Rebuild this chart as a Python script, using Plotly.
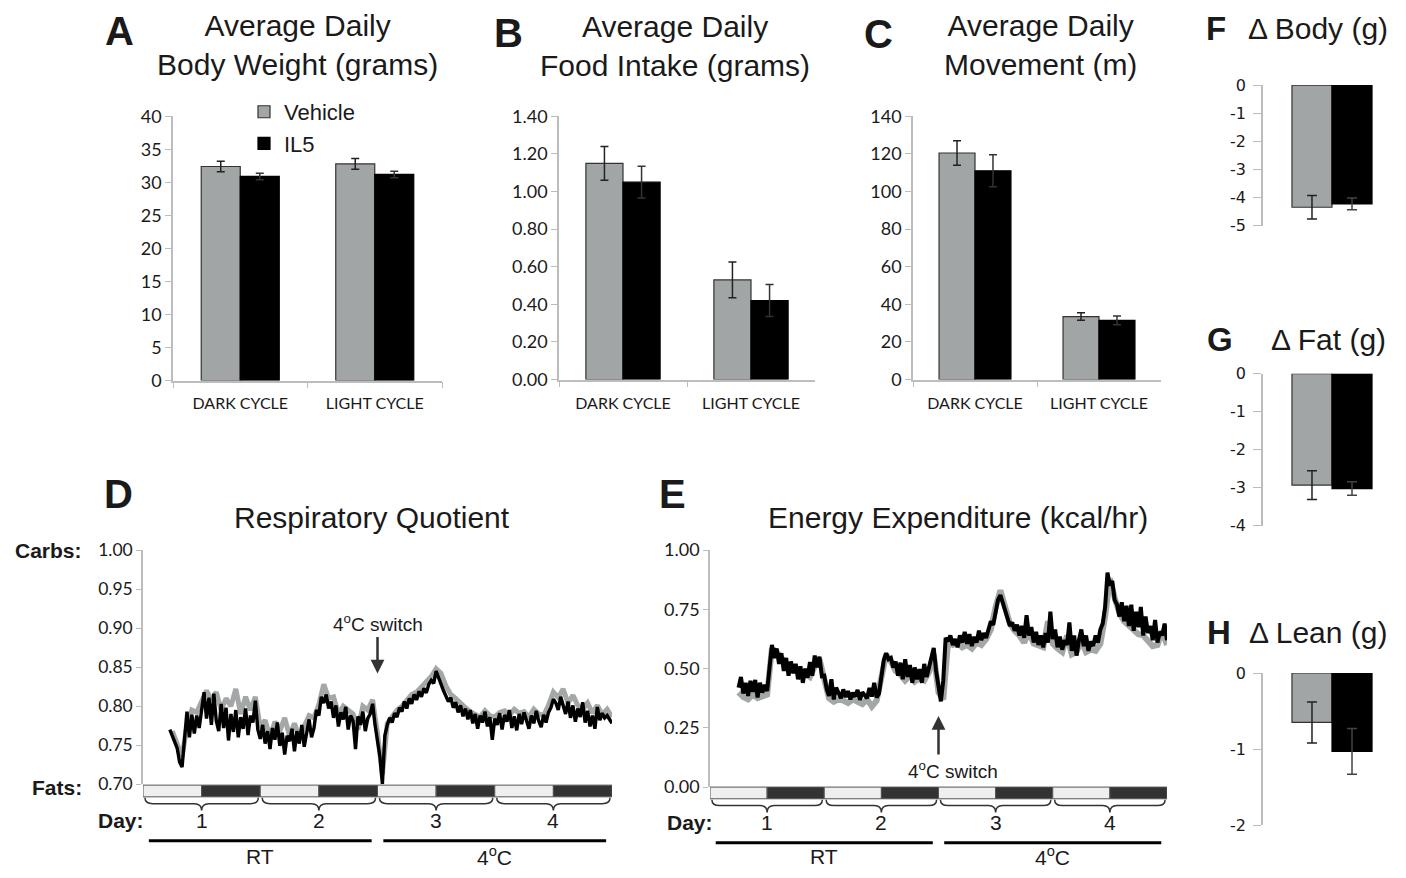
import plotly.graph_objects as go

W, H = 1406, 878

# ---------------- data ----------------
cycles = ["DARK CYCLE", "LIGHT CYCLE"]
groups = ["Vehicle", "IL5"]

bw_vehicle = [32.4, 32.8]
bw_vehicle_err = [0.8, 0.8]
bw_il5 = [30.9, 31.2]
bw_il5_err = [0.5, 0.5]

food_vehicle = [1.15, 0.53]
food_vehicle_err = [0.09, 0.095]
food_il5 = [1.05, 0.42]
food_il5_err = [0.085, 0.085]

move_vehicle = [120.5, 33.5]
move_vehicle_err = [6.5, 2.0]
move_il5 = [111.0, 31.5]
move_il5_err = [8.5, 2.3]

delta_cat = ["Δ"]
d_body = [-4.35, -4.23]
d_body_err = [0.42, 0.21]
d_fat = [-2.93, -3.02]
d_fat_err = [0.38, 0.18]
d_lean = [-0.65, -1.03]
d_lean_err = [0.27, 0.30]

body_ticks = [0, -1, -2, -3, -4, -5]
fat_ticks = [0, -1, -2, -3, -4]
lean_ticks = [0, -1, -2]

# Respiratory quotient, black (IL5) every 0.5 h from hour 5.5 to 96
rq_hours_il5 = [5.5 + 0.5 * i for i in range(182)]
rq_il5 = [
    0.770, 0.762, 0.752, 0.746, 0.728, 0.722, 0.758, 0.793, 0.760, 0.789, 0.765, 0.788,
    0.772, 0.799, 0.818, 0.784, 0.811, 0.776, 0.816, 0.781, 0.768, 0.803, 0.772, 0.798,
    0.756, 0.790, 0.767, 0.795, 0.760, 0.786, 0.771, 0.797, 0.763, 0.788, 0.779, 0.807,
    0.770, 0.758, 0.776, 0.752, 0.768, 0.745, 0.772, 0.757, 0.779, 0.749, 0.766, 0.738,
    0.762, 0.755, 0.771, 0.742, 0.768, 0.752, 0.776, 0.748, 0.764, 0.783, 0.760, 0.772,
    0.795, 0.788, 0.812, 0.804, 0.815, 0.797, 0.806, 0.785, 0.801, 0.774, 0.792, 0.783,
    0.799, 0.770, 0.788, 0.781, 0.745, 0.787, 0.776, 0.793, 0.768, 0.784, 0.790, 0.803,
    0.776, 0.758, 0.735, 0.700, 0.762, 0.776, 0.785, 0.779, 0.791, 0.786, 0.798, 0.793,
    0.806, 0.797, 0.810, 0.803, 0.815, 0.808, 0.819, 0.812, 0.823, 0.817, 0.828, 0.833,
    0.829, 0.845, 0.836, 0.827, 0.820, 0.813, 0.806, 0.811, 0.798, 0.805, 0.792, 0.801,
    0.787, 0.797, 0.783, 0.795, 0.778, 0.790, 0.771, 0.788, 0.779, 0.793, 0.774, 0.786,
    0.757, 0.784, 0.776, 0.791, 0.770, 0.789, 0.780, 0.795, 0.772, 0.787, 0.769, 0.790,
    0.777, 0.792, 0.783, 0.771, 0.788, 0.778, 0.794, 0.781, 0.773, 0.789, 0.779, 0.792,
    0.798, 0.809, 0.804, 0.795, 0.812, 0.799, 0.790, 0.806, 0.785, 0.801, 0.780, 0.797,
    0.786, 0.805, 0.779, 0.794, 0.774, 0.788, 0.771, 0.799, 0.782, 0.791, 0.785, 0.788,
    0.782, 0.778,
]
# gray (Vehicle) every 1 h from hour 6 to 96
rq_hours_veh = [6 + i for i in range(91)]
rq_veh = [
    0.768, 0.752, 0.735, 0.775, 0.795, 0.792,
    0.805, 0.820, 0.808, 0.818, 0.795, 0.810,
    0.800, 0.822, 0.790, 0.812, 0.795, 0.812,
    0.772, 0.782, 0.760, 0.780, 0.768, 0.785,
    0.762, 0.778, 0.760, 0.775, 0.788, 0.785,
    0.802, 0.828, 0.810, 0.812, 0.790, 0.800,
    0.795, 0.790, 0.770, 0.800, 0.795, 0.808,
    0.765, 0.712, 0.778, 0.788, 0.795, 0.800,
    0.808, 0.815, 0.818, 0.825, 0.830, 0.838,
    0.848, 0.842, 0.826, 0.815, 0.810, 0.803,
    0.798, 0.793, 0.790, 0.786, 0.794, 0.788,
    0.786, 0.792, 0.794, 0.788, 0.796, 0.791,
    0.793, 0.786, 0.796, 0.790, 0.788, 0.801,
    0.818, 0.811, 0.822, 0.804, 0.814, 0.801,
    0.796, 0.804, 0.791, 0.801, 0.789, 0.796,
    0.786,
]

# Energy expenditure, black every 0.5 h from hour 6 to 96
ee_hours_il5 = [6 + 0.5 * i for i in range(181)]
ee_il5 = [
    0.420, 0.465, 0.395, 0.440, 0.385, 0.448, 0.402, 0.452, 0.378, 0.440, 0.398, 0.432,
    0.405, 0.520, 0.600, 0.545, 0.585, 0.520, 0.565, 0.490, 0.545, 0.470, 0.530, 0.480,
    0.520, 0.455, 0.510, 0.440, 0.500, 0.462, 0.528, 0.470, 0.555, 0.505, 0.550, 0.468,
    0.470, 0.415, 0.385, 0.455, 0.370, 0.420, 0.395, 0.375, 0.412, 0.380, 0.405, 0.370,
    0.398, 0.382, 0.410, 0.368, 0.400, 0.385, 0.375, 0.418, 0.382, 0.440, 0.378, 0.395,
    0.470, 0.535, 0.565, 0.540, 0.545, 0.505, 0.530, 0.470, 0.525, 0.455, 0.540, 0.465,
    0.515, 0.440, 0.505, 0.455, 0.498, 0.440, 0.520, 0.465, 0.505, 0.545, 0.587, 0.490,
    0.420, 0.362, 0.450, 0.630, 0.615, 0.640, 0.600, 0.625, 0.590, 0.640, 0.610, 0.655,
    0.605, 0.645, 0.595, 0.635, 0.610, 0.660, 0.620, 0.650, 0.630, 0.670, 0.700, 0.685,
    0.745, 0.790, 0.810, 0.775, 0.740, 0.705, 0.680, 0.695, 0.660, 0.685, 0.640, 0.680,
    0.630, 0.725, 0.640, 0.675, 0.610, 0.655, 0.600, 0.640, 0.590, 0.650, 0.610, 0.740,
    0.625, 0.665, 0.590, 0.635, 0.580, 0.620, 0.600, 0.695, 0.575, 0.640, 0.555, 0.620,
    0.665, 0.595, 0.640, 0.575, 0.615, 0.595, 0.640, 0.610, 0.665, 0.690, 0.760, 0.905,
    0.850, 0.870, 0.790, 0.770, 0.720, 0.780, 0.700, 0.765, 0.680, 0.770, 0.660, 0.740,
    0.675, 0.760, 0.640, 0.720, 0.650, 0.680, 0.620, 0.705, 0.610, 0.655, 0.640, 0.690,
    0.620,
]
ee_hours_veh = [6 + i for i in range(91)]
ee_veh = [
    0.400, 0.380, 0.370, 0.390, 0.375, 0.385,
    0.390, 0.585, 0.570, 0.545, 0.525, 0.500,
    0.505, 0.470, 0.480, 0.465, 0.510, 0.540,
    0.455, 0.375, 0.360, 0.370, 0.365, 0.355,
    0.370, 0.360, 0.350, 0.370, 0.340, 0.365,
    0.450, 0.560, 0.530, 0.490, 0.475, 0.450,
    0.470, 0.445, 0.460, 0.450, 0.485, 0.560,
    0.400, 0.370, 0.610, 0.600, 0.610, 0.590,
    0.600, 0.585, 0.610, 0.600, 0.625, 0.665,
    0.760, 0.830, 0.760, 0.690, 0.660, 0.640,
    0.610, 0.655, 0.605, 0.600, 0.590, 0.700,
    0.605, 0.585, 0.570, 0.640, 0.560, 0.570,
    0.620, 0.570, 0.580, 0.575, 0.605, 0.720,
    0.880, 0.800, 0.735, 0.700, 0.680, 0.660,
    0.645, 0.640, 0.620, 0.595, 0.600, 0.660,
    0.600,
]

# light / dark phases (hours) and days
phase_edges = [0, 12, 24, 36, 48, 60, 72, 84, 96]
phase_kind = ["light", "dark", "light", "dark", "light", "dark", "light", "dark"]
day_edges = [0, 24, 48, 72, 96]
day_labels = ["1", "2", "3", "4"]
periods = [("RT", 0, 48), ("4<sup>o</sup>C", 48, 96)]
switch_hour = 48

# ---------------- styling ----------------
GRAY = "#a1a5a5"
BLACK = "#000000"
AXIS = "#bdbdbd"
TXT = "#1a1a1a"
TITLE_FONT = "Liberation Sans"
TICK_FONT = "Lato"


def fx(px):
    return px / W


def fy(py):
    return 1 - py / H


fig = go.Figure()


def add_bar_pair(xa, ya, cats, v, ve, i5, ie, legend=False):
    fig.add_trace(go.Bar(
        x=cats, y=v, name="Vehicle", xaxis=xa, yaxis=ya, showlegend=legend,
        marker=dict(color=GRAY, line=dict(color="#333333", width=1.2)),
        error_y=dict(type="data", array=ve, color="#222222", thickness=1.5, width=4),
    ))
    fig.add_trace(go.Bar(
        x=cats, y=i5, name="IL5", xaxis=xa, yaxis=ya, showlegend=legend,
        marker=dict(color=BLACK, line=dict(color="#000000", width=1.2)),
        error_y=dict(type="data", array=ie, color="#333333", thickness=1.5, width=4),
    ))


add_bar_pair("x", "y", cycles, bw_vehicle, bw_vehicle_err, bw_il5, bw_il5_err, legend=True)
add_bar_pair("x2", "y2", cycles, food_vehicle, food_vehicle_err, food_il5, food_il5_err)
add_bar_pair("x3", "y3", cycles, move_vehicle, move_vehicle_err, move_il5, move_il5_err)


def add_delta(xa, ya, vals, errs):
    fig.add_trace(go.Bar(
        x=delta_cat, y=[vals[0]], xaxis=xa, yaxis=ya, showlegend=False,
        marker=dict(color=GRAY, line=dict(color="#333333", width=1.2)),
        error_y=dict(type="data", array=[errs[0]], color="#222222", thickness=1.5, width=5),
    ))
    fig.add_trace(go.Bar(
        x=delta_cat, y=[vals[1]], xaxis=xa, yaxis=ya, showlegend=False,
        marker=dict(color=BLACK, line=dict(color="#000000", width=1.2)),
        error_y=dict(type="data", array=[errs[1]], color="#444444", thickness=1.5, width=5),
    ))


add_delta("x4", "y4", d_body, d_body_err)
add_delta("x5", "y5", d_fat, d_fat_err)
add_delta("x6", "y6", d_lean, d_lean_err)

# time series
fig.add_trace(go.Scatter(x=rq_hours_veh, y=rq_veh, mode="lines", xaxis="x7", yaxis="y7",
                         line=dict(color="#a3a7a7", width=5), showlegend=False))
fig.add_trace(go.Scatter(x=rq_hours_il5, y=rq_il5, mode="lines", xaxis="x7", yaxis="y7",
                         line=dict(color="#000000", width=3.4), showlegend=False))
fig.add_trace(go.Scatter(x=ee_hours_veh, y=ee_veh, mode="lines", xaxis="x8", yaxis="y8",
                         line=dict(color="#a3a7a7", width=6), showlegend=False))
fig.add_trace(go.Scatter(x=ee_hours_il5, y=ee_il5, mode="lines", xaxis="x8", yaxis="y8",
                         line=dict(color="#000000", width=4), showlegend=False))

tickfont = dict(family=TICK_FONT, size=18, color=TXT)


def cat_xaxis(x0, x1, anchor):
    return dict(domain=[fx(x0), fx(x1)], anchor=anchor, showline=True, linecolor=AXIS,
                linewidth=1.5, ticks="outside", tickson="boundaries", ticklen=6,
                tickcolor=AXIS, tickfont=dict(family=TICK_FONT, size=16, color=TXT),
                ticklabelstandoff=8,
                showgrid=False, zeroline=False, fixedrange=True)


def val_yaxis(y_top, y_bot, anchor, rng, dtick, fmt, font=None, ticklen=6, **kw):
    d = dict(domain=[fy(y_bot), fy(y_top)], anchor=anchor, range=rng, dtick=dtick,
             tick0=rng[0], tickformat=fmt, showline=True, linecolor=AXIS, linewidth=1.5,
             ticks="outside", ticklen=ticklen, tickcolor=AXIS, tickfont=font or tickfont,
             showgrid=False, zeroline=False, fixedrange=True)
    d.update(kw)
    return d


delta_font = dict(family="DejaVu Sans", size=16, color=TXT)
hidden_x = dict(showline=False, showticklabels=False, ticks="", showgrid=False, zeroline=False)


def delta_yaxis(y_top, y_bot, anchor, ticks):
    return val_yaxis(y_top, y_bot, anchor, [min(ticks), 0], 1, "d", delta_font, 8,
                     tickmode="array", tickvals=ticks, ticktext=[str(t) for t in ticks],
                     ticklabelstandoff=4)


layout = dict(
    width=W, height=H, margin=dict(l=0, r=0, t=0, b=0),
    paper_bgcolor="white", plot_bgcolor="white",
    barmode="group", bargap=0.42, bargroupgap=0,
    showlegend=True,
    legend=dict(x=fx(244), y=fy(81), xanchor="left", yanchor="top",
                font=dict(family=TITLE_FONT, size=22, color=TXT),
                bgcolor="rgba(0,0,0,0)", itemwidth=30, tracegroupgap=0),
    xaxis=cat_xaxis(173, 442, "y"),
    yaxis=val_yaxis(107, 378, "x", [0, 40], 5, "d"),
    xaxis2=cat_xaxis(559, 815, "y2"),
    yaxis2=val_yaxis(107, 377, "x2", [0, 1.4], 0.2, ".2f"),
    xaxis3=cat_xaxis(913, 1161, "y3"),
    yaxis3=val_yaxis(107, 377, "x3", [0, 140], 20, "d"),
    xaxis4=dict(domain=[fx(1263), fx(1401)], anchor="y4", **hidden_x),
    yaxis4=delta_yaxis(75, 219, "x4", body_ticks),
    xaxis5=dict(domain=[fx(1263), fx(1401)], anchor="y5", **hidden_x),
    yaxis5=delta_yaxis(371, 527, "x5", fat_ticks),
    xaxis6=dict(domain=[fx(1263), fx(1401)], anchor="y6", **hidden_x),
    yaxis6=delta_yaxis(678, 834, "x6", lean_ticks),
    xaxis7=dict(domain=[fx(143), fx(612)], anchor="y7", range=[0, 96], **hidden_x),
    yaxis7=val_yaxis(552, 792, "x7", [0.70, 1.00], 0.05, ".2f",
                     dict(family=TICK_FONT, size=17.5, color=TXT), 5),
    xaxis8=dict(domain=[fx(710), fx(1167)], anchor="y8", range=[0, 96], **hidden_x),
    yaxis8=val_yaxis(552, 795, "x8", [0, 1.0], 0.25, ".2f",
                     dict(family=TICK_FONT, size=18, color=TXT), 5),
)
fig.update_layout(**layout)

shapes = []
annotations = []


def ann(x, y, text, size, bold=False, family=TITLE_FONT, xanchor="center", **kw):
    t = f"<b>{text}</b>" if bold else text
    d = dict(x=fx(x), y=fy(y), xref="paper", yref="paper", text=t, showarrow=False,
             font=dict(family=family, size=size, color=TXT), xanchor=xanchor, yanchor="middle")
    d.update(kw)
    annotations.append(d)


# panel letters and titles
ann(120, 20, "A", 40, bold=True)
ann(297, 34, "Average Daily<br>Body Weight (grams)", 30)
ann(508, 22, "B", 40, bold=True)
ann(675, 35, "Average Daily<br>Food Intake (grams)", 30)
ann(878, 23, "C", 40, bold=True)
ann(1040, 34, "Average Daily<br>Movement (m)", 30)
ann(1216, 17, "F", 33, bold=True)
ann(1318, 17, "Δ Body (g)", 30)
ann(1220, 336, "G", 33, bold=True)
ann(1328, 336, "Δ Fat (g)", 30)
ann(1219, 636, "H", 33, bold=True)
ann(1318, 636, "Δ Lean (g)", 30)
ann(118, 494, "D", 40, bold=True)
ann(372, 519, "Respiratory Quotient", 30)
ann(672, 494, "E", 40, bold=True)
ann(958, 519, "Energy Expenditure (kcal/hr)", 30)

ann(84, 552, "Carbs:", 21, bold=True, xanchor="right")
ann(84, 795, "Fats:", 21, bold=True, xanchor="right")
ann(146, 829, "Day:", 21, bold=True, xanchor="right")
ann(715, 831, "Day:", 21, bold=True, xanchor="right")


def time_panel_decor(xref, y_strip_top, y_strip_bot, y_day, y_line, y_lab):
    # light/dark strip
    for k in range(len(phase_kind)):
        shapes.append(dict(type="rect", xref=xref, yref="paper",
                           x0=phase_edges[k], x1=phase_edges[k + 1],
                           y0=fy(y_strip_bot), y1=fy(y_strip_top),
                           fillcolor="#efefef" if phase_kind[k] == "light" else "#333333",
                           line=dict(color="#555555", width=1)))
    yt = fy(y_strip_bot + 1)
    ym = fy(y_strip_bot + 7)
    yb = fy(y_strip_bot + 14)
    for k in range(len(day_labels)):
        s, e = day_edges[k], day_edges[k + 1]
        c = (s + e) / 2
        path = (f"M {s+0.4},{yt} Q {s+0.4},{ym} {s+2},{ym} L {c-1.5},{ym} "
                f"Q {c},{ym} {c},{yb} Q {c},{ym} {c+1.5},{ym} L {e-2},{ym} "
                f"Q {e-0.4},{ym} {e-0.4},{yt}")
        shapes.append(dict(type="path", xref=xref, yref="paper", path=path,
                           line=dict(color="#333333", width=1.5)))
        annotations.append(dict(x=c, y=fy(y_day), xref=xref, yref="paper", text=day_labels[k],
                                showarrow=False, font=dict(family=TITLE_FONT, size=21, color=TXT),
                                xanchor="center", yanchor="middle"))
    for name, s, e in periods:
        shapes.append(dict(type="line", xref=xref, yref="paper", x0=s + 1.2, x1=e - 1.2,
                           y0=fy(y_line), y1=fy(y_line), line=dict(color="#000000", width=3)))
        annotations.append(dict(x=(s + e) / 2, y=fy(y_lab), xref=xref, yref="paper", text=name,
                                showarrow=False, font=dict(family=TITLE_FONT, size=21, color=TXT),
                                xanchor="center", yanchor="middle"))


time_panel_decor("x7", 793, 805, 829, 850, 866)
time_panel_decor("x8", 795, 807, 831, 852, 866)

# 4oC switch arrows
annotations.append(dict(x=switch_hour, y=0.842, xref="x7", yref="y7", text="4<sup>o</sup>C switch",
                        showarrow=True, arrowhead=2, arrowsize=1.1, arrowwidth=2.5, arrowcolor="#333333",
                        ax=0, ay=-50, font=dict(family=TITLE_FONT, size=19, color=TXT)))
annotations.append(dict(x=switch_hour, y=0.30, xref="x8", yref="y8", text="",
                        showarrow=True, arrowhead=2, arrowsize=1.1, arrowwidth=2.5, arrowcolor="#333333",
                        ax=0, ay=40))
annotations.append(dict(x=switch_hour + 3, y=fy(777), xref="x8", yref="paper",
                        text="4<sup>o</sup>C switch", showarrow=False,
                        font=dict(family=TITLE_FONT, size=19, color=TXT),
                        xanchor="center", yanchor="middle"))

fig.update_layout(shapes=shapes, annotations=annotations)
fig.write_html("out.html")
